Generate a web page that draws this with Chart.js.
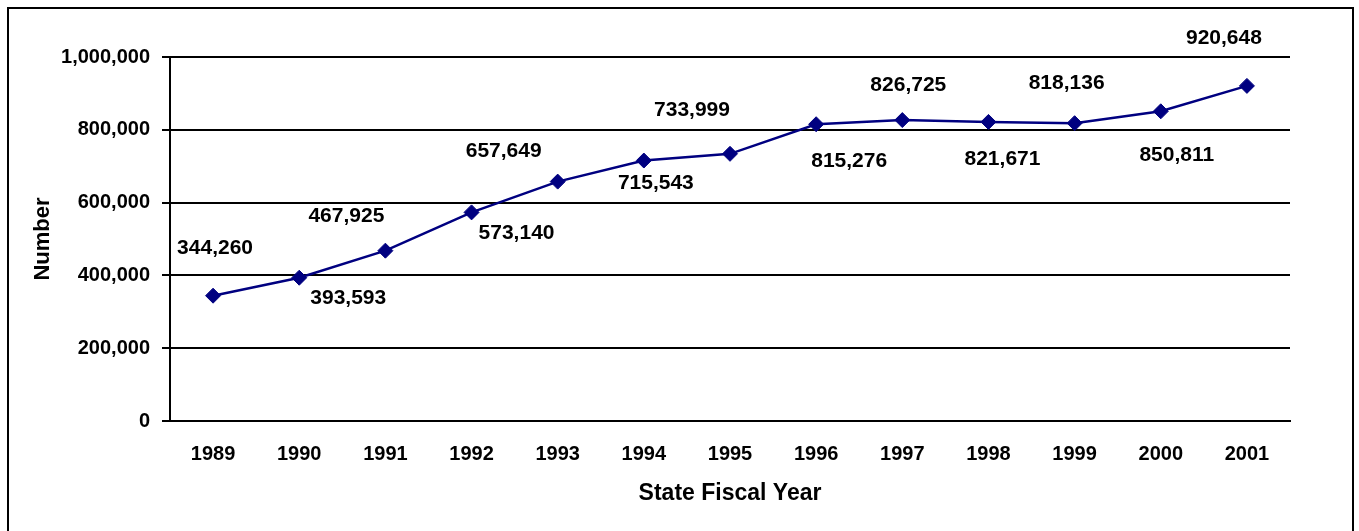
<!DOCTYPE html>
<html>
<head>
<meta charset="utf-8">
<script src="https://cdn.jsdelivr.net/npm/chart.js@4/dist/chart.umd.min.js"></script>
<style>
  html, body { margin: 0; padding: 0; background: #fff; overflow: hidden; }
  #wrap { position: relative; width: 1359px; height: 531px; }
  #frame { position: absolute; left: 7px; top: 7px; width: 1343px; height: 560px; border: 2.5px solid #000; pointer-events: none; }
  canvas { display: block; }
</style>
</head>
<body>
<div id="wrap">
  <canvas id="c" width="1359" height="531"></canvas>
  <div id="frame"></div>
</div>
<script>
// ---- data ----
const years = ['1989','1990','1991','1992','1993','1994','1995','1996','1997','1998','1999','2000','2001'];
const counts = [344260, 393593, 467925, 573140, 657649, 715543, 733999, 815276, 826725, 821671, 818136, 850811, 920648];
const yTicks = [0, 200000, 400000, 600000, 800000, 1000000];

// label offsets from each point (pixels): [dx, dy]
const labelOffsets = [
  [2, -47], [49, 20], [-39, -34], [45, 21], [-54, -30], [12, 23], [-38, -44],
  [33, 37], [6, -35], [14, 37], [-8, -40], [16, 44], [-23, -48]
];

const fmt = v => v.toLocaleString('en-US');
const FONT = '"Liberation Sans", Arial, sans-serif';
const NAVY = '#000080';

const labelPlugin = {
  id: 'pointLabels',
  afterDatasetsDraw(chart) {
    const ctx = chart.ctx;
    const meta = chart.getDatasetMeta(0);
    ctx.save();
    ctx.font = 'bold 21px ' + FONT;
    ctx.fillStyle = '#000';
    ctx.textAlign = 'center';
    ctx.textBaseline = 'middle';
    meta.data.forEach((pt, i) => {
      const off = labelOffsets[i] || [0, -30];
      ctx.fillText(fmt(chart.data.datasets[0].data[i]), pt.x + off[0], pt.y + off[1]);
    });
    ctx.restore();
  }
};

new Chart(document.getElementById('c'), {
  type: 'line',
  data: {
    labels: years,
    datasets: [{
      data: counts,
      borderColor: NAVY,
      backgroundColor: NAVY,
      borderWidth: 2.5,
      pointStyle: 'rectRot',
      pointRadius: 7.5,
      pointHoverRadius: 7.5,
      pointBackgroundColor: NAVY,
      pointBorderColor: NAVY,
      pointBorderWidth: 1,
      tension: 0,
      fill: false
    }]
  },
  options: {
    responsive: false,
    animation: false,
    devicePixelRatio: 1,
    layout: { padding: { left: 0, right: 69, top: 57, bottom: 0 } },
    plugins: { legend: { display: false }, tooltip: { enabled: false } },
    scales: {
      x: {
        offset: true,
        grid: { display: false, drawTicks: false },
        border: { display: true, color: '#000', width: 2 },
        ticks: { color: '#000', font: { family: FONT, size: 20, weight: 'bold' }, padding: 21, maxRotation: 0, autoSkip: false },
        title: { display: true, text: 'State Fiscal Year', color: '#000', font: { family: FONT, size: 23, weight: 'bold' }, padding: { top: 0, bottom: 24 } },
        afterFit(scale) { scale.height = 110; }
      },
      y: {
        min: 0, max: 1000000,
        afterBuildTicks(scale) { scale.ticks = yTicks.map(v => ({ value: v })); },
        grid: { color: '#000', lineWidth: 2, drawTicks: true, tickLength: 8, tickColor: '#000' },
        border: { display: true, color: '#000', width: 2 },
        ticks: { color: '#000', font: { family: FONT, size: 20, weight: 'bold' }, padding: 12, callback: v => fmt(v) },
        title: { display: true, text: 'Number', color: '#000', font: { family: FONT, size: 22, weight: 'bold' }, padding: { top: 30, bottom: 0 } },
        afterFit(scale) { scale.width = 170; }
      }
    }
  },
  plugins: [labelPlugin]
});
</script>
</body>
</html>
